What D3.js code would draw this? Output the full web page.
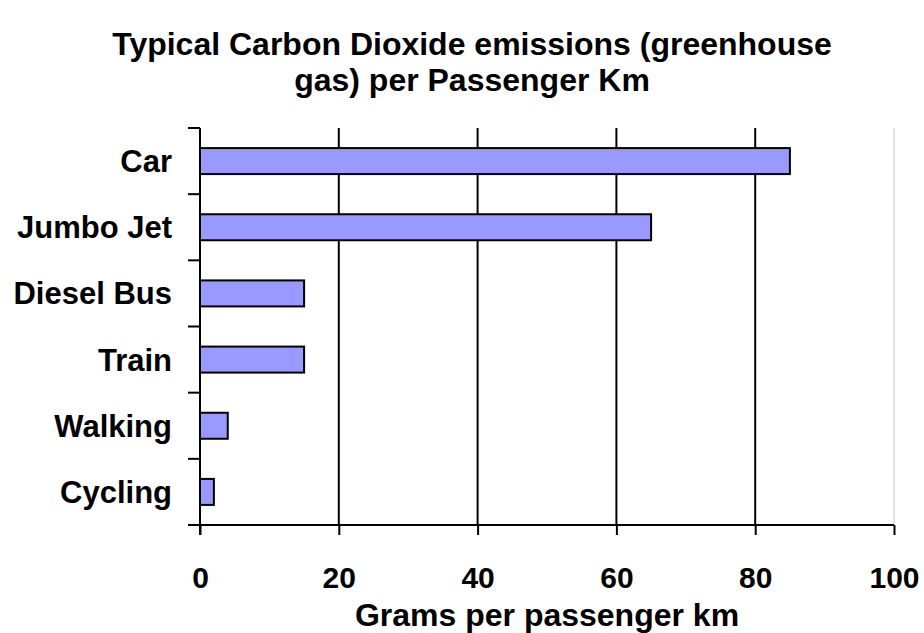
<!DOCTYPE html>
<html><head><meta charset="utf-8">
<script src="https://cdn.jsdelivr.net/npm/d3@7"></script>
<style>body{margin:0;background:#fff}svg{display:block}text{font-family:"Liberation Sans",Arial,sans-serif;font-weight:bold;fill:#000}</style>
</head><body><svg id="c" width="924" height="633"></svg>
<script>
const categories = ["Car","Jumbo Jet","Diesel Bus","Train","Walking","Cycling"];
const values = [85,65,15,15,4,2];
const xTicks = [0,20,40,60,80,100];
const titleLines = ["Typical Carbon Dioxide emissions (greenhouse","gas) per Passenger Km"];
const xTitle = "Grams per passenger km";

const svg = d3.select("#c");
const m = {l:200, r:894, t:128, b:525};
const x = d3.scaleLinear().domain([0,100]).range([m.l,m.r]);
const yb = d3.scaleBand().domain(categories).range([m.t,m.b]);

// gridlines
svg.append("g").selectAll("line").data(xTicks.filter(d=>d>0)).join("line")
  .attr("x1",d=>x(d)).attr("x2",d=>x(d)).attr("y1",m.t).attr("y2",m.b)
  .attr("stroke",d=>d===100?"#c8c8c8":"#000").attr("stroke-width",d=>d===100?1:2);

// bars
svg.append("g").selectAll("rect").data(categories).join("rect")
  .attr("x",x(0)).attr("y",d=>yb(d)+yb.bandwidth()/2-13)
  .attr("width",(d,i)=>x(values[i])-x(0)).attr("height",26)
  .attr("fill","#9999ff").attr("stroke","#000").attr("stroke-width",2);

// x axis
const xa = svg.append("g").attr("transform",`translate(0,${m.b})`)
  .call(d3.axisBottom(x).tickValues(xTicks).tickSize(10).tickPadding(32));
xa.select(".domain").attr("stroke","#000").attr("stroke-width",2).attr("d",`M${m.l-12},0H${m.r}`);
xa.selectAll(".tick line").attr("stroke","#000").attr("stroke-width",2);
xa.selectAll(".tick text").style("font-size","30px").style("font-family","'Liberation Sans',Arial,sans-serif").style("font-weight","bold").attr("fill","#000");

// y axis
const ya = svg.append("g").attr("transform",`translate(${m.l},0)`);
ya.append("line").attr("x1",0).attr("x2",0).attr("y1",m.t).attr("y2",m.b+10).attr("stroke","#000").attr("stroke-width",2);
const tickYs = categories.map(c=>yb(c)).concat([m.b]);
ya.selectAll("line.tk").data(tickYs).join("line").attr("class","tk")
  .attr("x1",-12).attr("x2",0).attr("y1",d=>d).attr("y2",d=>d).attr("stroke","#000").attr("stroke-width",2);
ya.selectAll("text").data(categories).join("text")
  .attr("x",-28).attr("y",d=>yb(d)+yb.bandwidth()/2+11)
  .attr("text-anchor","end").style("font-size","31px").text(d=>d);

// titles
svg.append("g").selectAll("text").data(titleLines).join("text")
  .attr("x",472).attr("y",(d,i)=>55+i*36).attr("text-anchor","middle")
  .style("font-size","32px").text(d=>d);
svg.append("text").attr("x",547).attr("y",626).attr("text-anchor","middle").style("font-size","32px").text(xTitle);
</script></body></html>
